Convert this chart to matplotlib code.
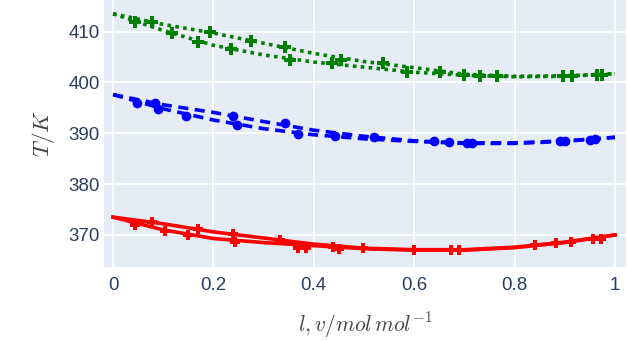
import matplotlib
matplotlib.use("Agg")
import matplotlib.pyplot as plt

plt.rcParams['mathtext.fontset'] = 'cm'
plt.rcParams['font.family'] = ['Liberation Sans', 'DejaVu Sans']

# curve points (x, T) for the three systems, dew (upper) and bubble (lower)
x_line = [0, 0.1, 0.2, 0.3, 0.4, 0.5, 0.6, 0.7, 0.8, 0.9, 1.0]

green_up = [413.5, 411.4, 409.7, 407.7, 405.7, 404.1, 402.9, 401.6, 401.2, 401.3, 401.7]
green_lo = [413.5, 410.2, 407.3, 405.4, 404.0, 403.0, 402.0, 401.4, 401.1, 401.2, 401.7]
blue_up = [397.6, 395.6, 394.1, 392.3, 390.6, 389.4, 388.5, 388.1, 388.1, 388.5, 389.2]
blue_lo = [397.6, 394.8, 392.6, 390.9, 389.7, 388.9, 388.4, 388.0, 388.0, 388.4, 389.2]
red_up = [373.5, 372.2, 370.6, 369.4, 368.2, 367.4, 367.1, 367.1, 367.6, 368.6, 370.0]
red_lo = [373.5, 371.0, 369.3, 368.5, 367.9, 367.3, 367.0, 367.0, 367.5, 368.5, 370.0]

# experimental points
gu_x = [0.077, 0.193, 0.275, 0.343, 0.455, 0.538, 0.652, 0.70, 0.765, 0.896, 0.964]
gu_t = [411.8, 409.9, 408.1, 407.0, 404.5, 403.8, 402.0, 401.5, 401.3, 401.3, 401.5]
gl_x = [0.044, 0.117, 0.17, 0.236, 0.353, 0.436, 0.585, 0.731, 0.914, 0.974]
gl_t = [411.9, 409.8, 407.9, 406.6, 404.4, 403.8, 402.1, 401.3, 401.3, 401.5]

bu_x = [0.047, 0.084, 0.24, 0.343, 0.52, 0.64, 0.67, 0.89, 0.95]
bu_t = [396.0, 396.0, 393.3, 392.0, 389.2, 388.4, 388.3, 388.5, 388.7]
bl_x = [0.09, 0.145, 0.246, 0.369, 0.442, 0.705, 0.715, 0.90, 0.96]
bl_t = [394.8, 393.4, 391.7, 389.8, 389.4, 388.0, 388.0, 388.4, 388.8]

ru_x = [0.077, 0.17, 0.24, 0.332, 0.438, 0.498, 0.6, 0.673, 0.84, 0.913, 0.956]
ru_t = [372.6, 371.1, 370.1, 369.0, 367.7, 367.4, 367.0, 367.1, 368.0, 368.7, 369.2]
rl_x = [0.044, 0.103, 0.15, 0.243, 0.369, 0.385, 0.45, 0.69, 0.883, 0.972]
rl_t = [372.0, 370.8, 369.9, 368.7, 367.5, 367.4, 367.3, 367.0, 368.4, 369.3]

fig = plt.figure(figsize=(6.27, 3.42), dpi=100)
ax = fig.add_axes([104/627, 75/342, 522/627, 267/342])
ax.set_facecolor('#E5ECF6')

lw = 2.6
for y in (green_up, green_lo):
    ax.plot(x_line, y, color='green', lw=lw, linestyle=(0, (1, 1.2)), dash_capstyle='butt')
for y in (blue_up, blue_lo):
    ax.plot(x_line, y, color='blue', lw=lw, linestyle=(0, (2.8, 1.8)))
for y in (red_up, red_lo):
    ax.plot(x_line, y, color='red', lw=lw)

ax.plot(gu_x, gu_t, 'P', color='green', ms=8.5, mew=0)
ax.plot(gl_x, gl_t, 'P', color='green', ms=8.5, mew=0)
ax.plot(bu_x, bu_t, 'o', color='blue', ms=7, mew=0)
ax.plot(bl_x, bl_t, 'o', color='blue', ms=7, mew=0)
ax.plot(ru_x, ru_t, 'P', color='red', ms=7, mew=0)
ax.plot(rl_x, rl_t, 'P', color='red', ms=7, mew=0)

ax.set_xlim(-0.018, 1.022)
ax.set_ylim(363.7, 416.2)
ax.set_xticks([0, 0.2, 0.4, 0.6, 0.8, 1.0])
ax.set_xticklabels(['0', '0.2', '0.4', '0.6', '0.8', '1'])
ax.set_yticks([370, 380, 390, 400, 410])
ax.grid(True, color='white', lw=1.3)
ax.set_axisbelow(True)
for s in ax.spines.values():
    s.set_visible(False)
ax.tick_params(length=0, labelsize=13.5, labelcolor='#2a3f5f')
ax.tick_params(axis='x', pad=7)
ax.tick_params(axis='y', pad=3)

ax.set_xlabel(r'$l, v / mol\, mol^{-1}$', fontsize=15.5, color='#444444', labelpad=12)
ax.set_ylabel(r'$T/K$', fontsize=16.5, color='#444444', labelpad=8)

fig.savefig('out.png', dpi=100)
